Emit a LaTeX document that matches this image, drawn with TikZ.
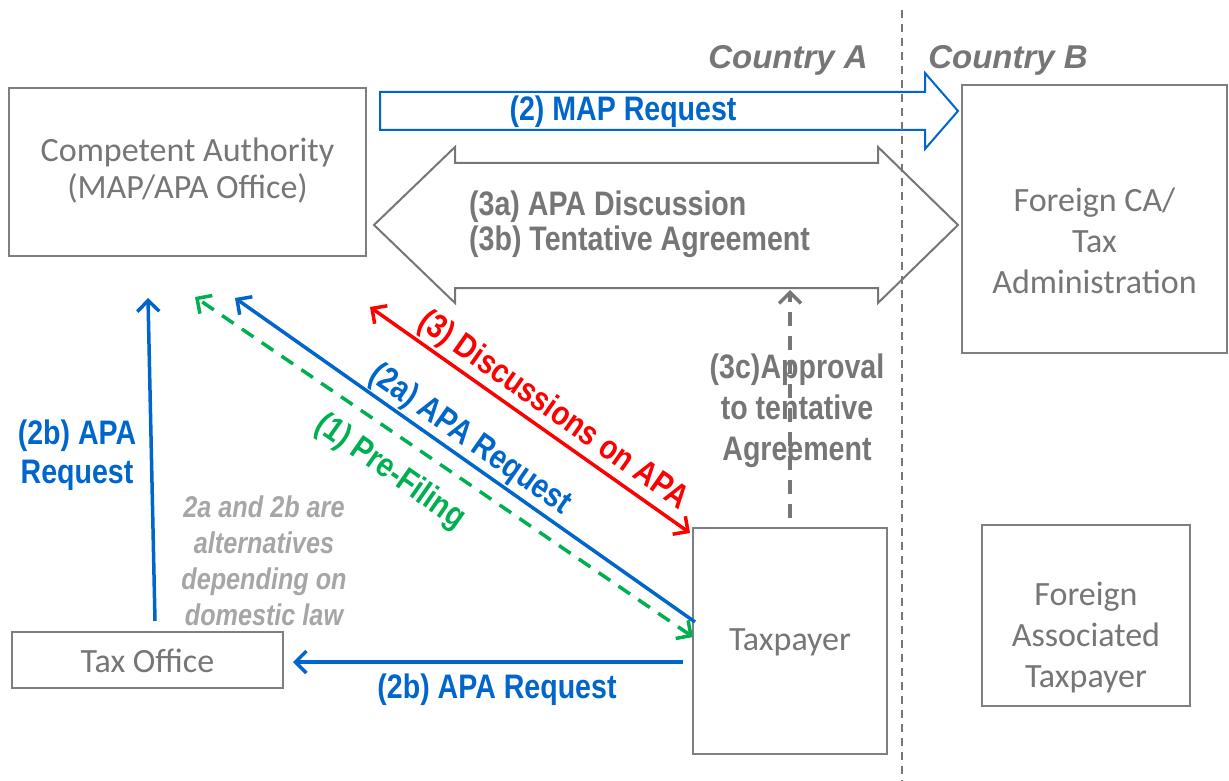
\documentclass[tikz,border=0pt]{standalone}
\usepackage{fontspec}
\setmainfont{Liberation Sans}
\newfontfamily\boxfont{Carlito}
\newfontfamily\narfont[FakeStretch=0.84]{Liberation Sans}
\usetikzlibrary{arrows.meta}
\definecolor{tblue}{RGB}{0,102,204}
\definecolor{tred}{RGB}{255,0,0}
\definecolor{tgreen}{RGB}{0,176,80}
\definecolor{tgray}{RGB}{118,118,118}
\definecolor{boxgray}{RGB}{127,127,127}
\definecolor{ltgray}{RGB}{166,166,166}
\begin{document}
\begin{tikzpicture}[x=1pt,y=-1pt,
  box/.style={draw=boxgray, line width=1.5pt, fill=white, inner sep=0pt},
  boxtext/.style={font=\boxfont\fontsize{34}{41}\selectfont, text=tgray, align=center, inner sep=0pt},
  lbl/.style={font=\narfont\bfseries\fontsize{34}{41}\selectfont, align=center, inner sep=0pt},
  ctry/.style={font=\bfseries\itshape\fontsize{33}{40}\selectfont, text=tgray, inner sep=0pt},
  tip/.style={-{Straight Barb[length=11pt,width=22pt]}},
  tips/.style={{Straight Barb[length=11pt,width=22pt]}-{Straight Barb[length=11pt,width=22pt]}},
  conn/.style={line width=3.5pt}
]
\useasboundingbox (0,0) rectangle (1229,781);

% block arrows
\draw[draw=tblue, line width=2pt, fill=white, line join=miter]
  (380,92) -- (925,92) -- (925,73) -- (958,111) -- (925,149) -- (925,130) -- (380,130) -- cycle;
\draw[draw=tgray, line width=2pt, fill=white, line join=miter]
  (374,225) -- (455,147) -- (455,163) -- (878,163) -- (878,147) -- (958,225)
  -- (878,303) -- (878,288) -- (455,288) -- (455,303) -- cycle;

% country divider
\coordinate (divtop) at (902,10);
\coordinate (divbot) at (902,781);
\draw[tgray, line width=1.5pt, dash pattern=on 8pt off 6pt] (divtop) -- (divbot);

% boxes
\node[box, minimum width=357pt, minimum height=168pt] (ca) at (187.5,172) {};
\node[boxtext, font=\boxfont\fontsize{34}{37}\selectfont] (caT) at (187.5,171) {Competent Authority\\(MAP/APA Office)};
\node[box, minimum width=265pt, minimum height=268pt] (fca) at (1094.5,219) {};
\node[boxtext] (fcaT) at (1094.5,241) {Foreign CA/\\Tax\\Administration};
\node[box, minimum width=271pt, minimum height=56pt] (to) at (147.5,660) {};
\node[boxtext] (toT) at (147.5,661) {Tax Office};
\node[box, minimum width=194pt, minimum height=226pt] (tp) at (790,641) {};
\node[boxtext] (tpT) at (790,642) {Taxpayer};
\node[box, minimum width=208pt, minimum height=181pt] (fat) at (1086,615.5) {};
\node[boxtext] (fatT) at (1086,638) {Foreign\\Associated\\Taxpayer};

% country labels
\node[ctry] (cA) at (788,60) {Country A};
\node[ctry] (cB) at (1008,60) {Country B};

% block arrow labels
\node[lbl, text=tblue] (mapL) at (623,112) {(2) MAP Request};
\node[lbl, text=tgray, align=left, anchor=west, font=\narfont\bfseries\fontsize{34}{35}\selectfont] (apaL) at (469,224) {(3a) APA Discussion\\(3b) Tentative Agreement};

% connector end points
\coordinate (redA) at (370,307);
\coordinate (redB) at (690,533);
\coordinate (bA) at (695,622);
\coordinate (bB) at (235,298);
\coordinate (gA) at (693,637);
\coordinate (gB) at (195,297);
\coordinate (vA) at (155,621);
\coordinate (vB) at (148,298);
\coordinate (hA) at (683,662);
\coordinate (hB) at (293,662);
\coordinate (dA) at (790,518);
\coordinate (dB) at (790,290);

% connectors
\draw[conn, tred, tips] (redA) -- (redB);
\draw[conn, tblue, tip] (bA) -- (bB);
\draw[conn, tgreen, tips, dash pattern=on 14pt off 10pt] (gA) -- (gB);
\draw[conn, tblue, tip] (vA) -- (vB);
\draw[conn, tblue, tip] (hA) -- (hB);
\draw[conn, tgray, tip, dash pattern=on 14pt off 10pt] (dA) -- (dB);

% connector labels
\node[lbl, text=tred, rotate=-35] (redL) at (553,411) {(3) Discussions on APA};
\node[lbl, text=tblue, rotate=-35] (bL) at (470,440) {(2a) APA Request};
\node[lbl, text=tgreen, rotate=-35] (gL) at (390,472) {(1) Pre-Filing};
\node[lbl, text=tblue, font=\narfont\bfseries\fontsize{34}{39}\selectfont] (vL) at (77,455) {(2b) APA\\Request};
\node[lbl, text=tblue] (hL) at (497,690) {(2b) APA Request};
\node[lbl, text=tgray] (dL) at (797,411) {(3c)Approval\\to tentative\\Agreement};
\node[font=\narfont\bfseries\itshape\fontsize{30}{36}\selectfont, text=ltgray, align=center, inner sep=0pt] (note) at (264,561) {2a and 2b are\\alternatives\\depending on\\domestic law};
\end{tikzpicture}
\end{document}
